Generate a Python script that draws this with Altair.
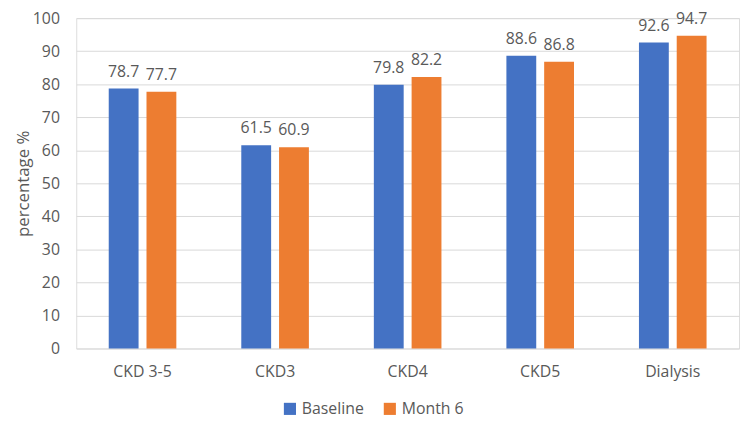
import altair as alt
import pandas as pd

categories = ["CKD 3-5", "CKD3", "CKD4", "CKD5", "Dialysis"]
series = ["Baseline", "Month 6"]
baseline = [78.7, 61.5, 79.8, 88.6, 92.6]
month6 = [77.7, 60.9, 82.2, 86.8, 94.7]
colors = ["#4472C4", "#ED7D31"]

rows = []
for c, b, m in zip(categories, baseline, month6):
    rows.append({"cat": c, "series": "Baseline", "value": b})
    rows.append({"cat": c, "series": "Month 6", "value": m})
df = pd.DataFrame(rows)

FONT = "Open Sans"
TXT = "#595959"

x = alt.X("cat:N", sort=categories, title=None,
          scale=alt.Scale(paddingInner=0.49, paddingOuter=0.245),
          axis=alt.Axis(labelAngle=0, domain=False, ticks=False, labelPadding=15,
                        labelFontSize=16, labelColor=TXT, labelFont=FONT))
xo = alt.XOffset("series:N", sort=series,
                 scale=alt.Scale(paddingInner=0.21, paddingOuter=0))
y = alt.Y("value:Q", title="percentage %",
          scale=alt.Scale(domain=[0, 100], nice=False),
          axis=alt.Axis(values=list(range(0, 101, 10)), domain=False, ticks=False,
                        grid=True, gridColor="#D9D9D9", gridWidth=1,
                        labelFontSize=16, labelColor=TXT, labelFont=FONT, labelPadding=17,
                        titleFontSize=17, titleColor=TXT, titleFont=FONT,
                        titleFontWeight="normal", titleX=-53, titleY=167,
                        titleAngle=270, titleAlign="center", titleBaseline="middle"))
color = alt.Color("series:N", sort=series,
                  scale=alt.Scale(domain=series, range=colors),
                  legend=alt.Legend(title=None, orient="none", direction="horizontal",
                                    legendX=208, legendY=387,
                                    symbolType="square", symbolSize=150, symbolStrokeWidth=0,
                                    labelFontSize=16, labelColor=TXT, labelFont=FONT,
                                    columnPadding=18, labelOffset=4))

bars = alt.Chart(df).mark_bar().encode(x=x, xOffset=xo, y=y, color=color)
labels = alt.Chart(df).mark_text(dy=-17, fontSize=16, font=FONT, color=TXT).encode(
    x=x, xOffset=xo, y=y, text=alt.Text("value:Q", format=".1f"))

chart = (bars + labels).properties(
    width=670, height=334,
    autosize=alt.AutoSizeParams(type="none"),
    padding={"left": 69, "top": 8, "right": 3, "bottom": 69},
).configure_view(stroke=None).configure(background="white")

chart.save("out.html", embed_options={"renderer": "svg", "actions": False})
